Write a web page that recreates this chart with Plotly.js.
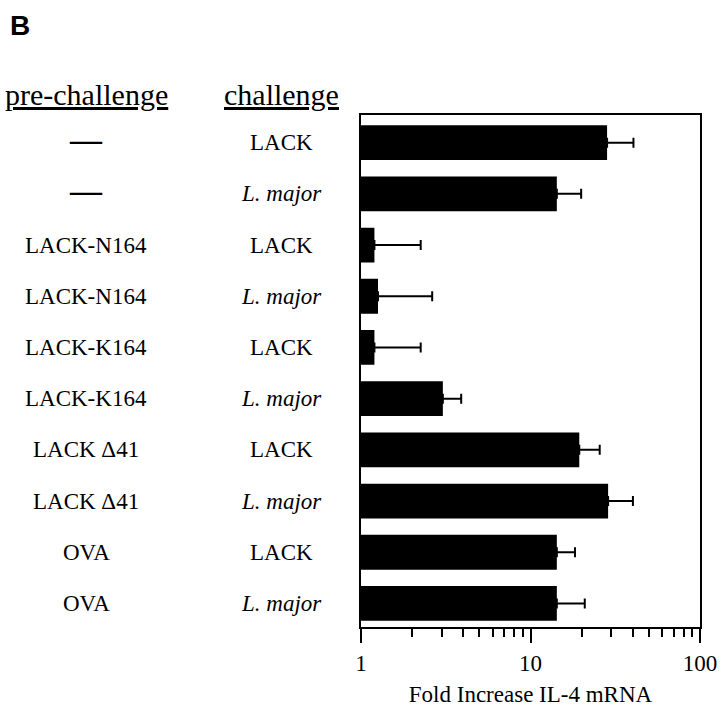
<!DOCTYPE html>
<html>
<head>
<meta charset="utf-8">
<script src="https://cdn.plot.ly/plotly-3.0.1.min.js"></script>
<style>
  html, body { margin: 0; padding: 0; background: #ffffff; }
  #chart { width: 720px; height: 707px; }
</style>
</head>
<body>
<div id="chart"></div>
<script>
// ---- data ----
var preChallenge = ['—', '—', 'LACK-N164', 'LACK-N164', 'LACK-K164', 'LACK-K164', 'LACK Δ41', 'LACK Δ41', 'OVA', 'OVA'];
var challenge = ['LACK', 'L. major', 'LACK', 'L. major', 'LACK', 'L. major', 'LACK', 'L. major', 'LACK', 'L. major'];
var foldIncrease = [28.3, 14.3, 1.2, 1.26, 1.2, 3.04, 19.4, 28.7, 14.3, 14.3];
var errorPlus = [12.2, 5.6, 1.05, 1.37, 1.05, 0.86, 6.2, 11.5, 4.0, 6.6];
var tickValues = [1, 10, 100];
var tickLabels = ['1', '10', '100'];

var serif = '"Liberation Serif", "Times New Roman", Times, serif';
var rows = foldIncrease.map(function (_, i) { return i; });

var trace = {
  type: 'bar',
  orientation: 'h',
  x: foldIncrease,
  y: rows,
  width: 0.68,
  marker: { color: '#000000', line: { width: 0 } },
  error_x: {
    type: 'data',
    symmetric: false,
    array: errorPlus,
    arrayminus: errorPlus.map(function () { return 0; }),
    color: '#000000',
    thickness: 2,
    width: 5
  },
  hoverinfo: 'skip'
};

var annotations = [];
rows.forEach(function (i) {
  var isDash = preChallenge[i] === '—';
  annotations.push({
    xref: 'paper', yref: 'y',
    x: (86 - 361) / 339, y: i,
    xanchor: 'center', yanchor: 'middle',
    yshift: isDash ? 4 : 0,
    text: isDash ? '<b>' + preChallenge[i] + '</b>' : preChallenge[i],
    showarrow: false,
    font: { family: serif, size: isDash ? 32 : 23, color: '#000000' }
  });
  var isItalic = challenge[i] !== 'LACK';
  annotations.push({
    xref: 'paper', yref: 'y',
    x: (281 - 361) / 339, y: i,
    xanchor: 'center', yanchor: 'middle',
    text: isItalic ? '<i>' + challenge[i] + '</i>' : challenge[i],
    showarrow: false,
    font: { family: serif, size: 23, color: '#000000' }
  });
});
// column headers
annotations.push({
  xref: 'paper', yref: 'paper',
  x: (86 - 361) / 339, y: (627 - 94) / 512,
  xanchor: 'center', yanchor: 'middle',
  text: 'pre-challenge', showarrow: false,
  font: { family: serif, size: 30, color: '#000000', lineposition: 'under' }
});
annotations.push({
  xref: 'paper', yref: 'paper',
  x: (281 - 361) / 339, y: (627 - 94) / 512,
  xanchor: 'center', yanchor: 'middle',
  text: 'challenge', showarrow: false,
  font: { family: serif, size: 30, color: '#000000', lineposition: 'under' }
});

var layout = {
  width: 720,
  height: 707,
  margin: { l: 361, r: 20, t: 115, b: 80, pad: 0 },
  paper_bgcolor: '#ffffff',
  plot_bgcolor: '#ffffff',
  showlegend: false,
  title: {
    text: '<b>B</b>',
    x: 10 / 720, xanchor: 'left', xref: 'container',
    y: 1 - 25 / 707, yanchor: 'middle', yref: 'container',
    font: { family: '"Liberation Sans", Arial, sans-serif', size: 28, color: '#000000' }
  },
  xaxis: {
    type: 'log',
    range: [0, 2],
    autorange: false,
    tickmode: 'array',
    tickvals: tickValues,
    ticktext: tickLabels,
    ticks: 'outside',
    ticklen: 14,
    tickwidth: 2,
    tickcolor: '#000000',
    minor: { dtick: 'D1', ticks: 'outside', ticklen: 8, tickwidth: 2, tickcolor: '#000000', showgrid: false },
    showline: true,
    linecolor: '#000000',
    linewidth: 2,
    mirror: true,
    showgrid: false,
    zeroline: false,
    tickfont: { family: serif, size: 23, color: '#000000' },
    title: {
      text: 'Fold Increase IL-4 mRNA',
      font: { family: serif, size: 23, color: '#000000' },
      standoff: 12
    }
  },
  yaxis: {
    range: [9.46, -0.54],
    autorange: false,
    showticklabels: false,
    ticks: '',
    showline: true,
    linecolor: '#000000',
    linewidth: 2,
    mirror: true,
    showgrid: false,
    zeroline: false
  },
  annotations: annotations
};

Plotly.newPlot('chart', [trace], layout, { staticPlot: true, displayModeBar: false });
</script>
</body>
</html>
